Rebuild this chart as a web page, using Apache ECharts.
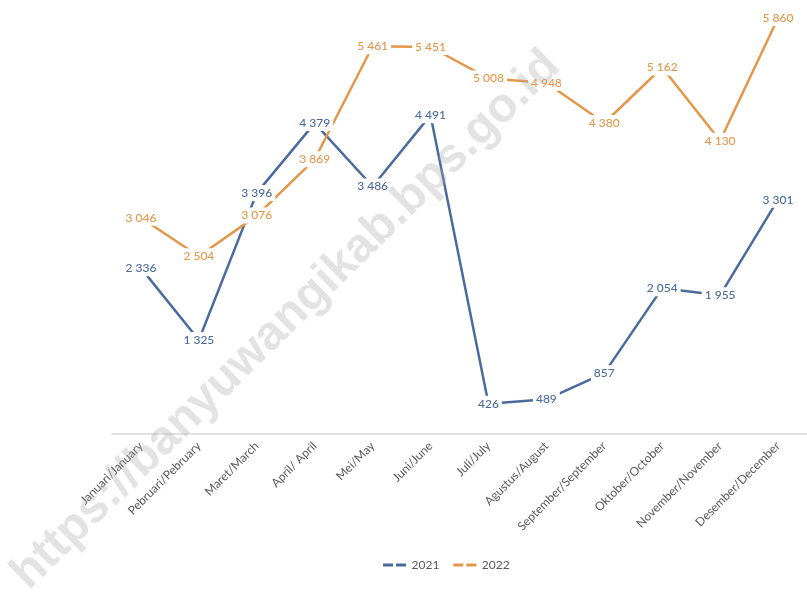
<!DOCTYPE html>
<html>
<head>
<meta charset="utf-8">
<script src="https://cdn.jsdelivr.net/npm/echarts@6/dist/echarts.min.js"></script>
<style>html,body{margin:0;padding:0;background:#fff;}#c{width:807px;height:594px;}</style>
</head>
<body>
<div id="c"></div>
<script>
var categories = ["Januari/January","Pebruari/Pebruary","Maret/March","April/ April","Mei/May","Juni/June","Juli/July","Agustus/August","September/September","Oktober/October","November/November","Desember/December"];
var values2021 = [2336, 1325, 3396, 4379, 3486, 4491, 426, 489, 857, 2054, 1955, 3301];
var values2022 = [3046, 2504, 3076, 3869, 5461, 5451, 5008, 4948, 4380, 5162, 4130, 5860];
var seriesNames = ["2021", "2022"];

var blue = '#4a6b9c', orange = '#e4974a';
function fmt(v){ return String(v).replace(/\B(?=(\d{3})+(?!\d))/g, ' '); }
function mkSeries(name, data, color){
  return {
    name: name, type: 'line', data: data,
    symbol: 'circle', symbolSize: 2, showSymbol: true,
    itemStyle: { color: 'rgba(0,0,0,0)', borderWidth: 0 },
    lineStyle: { color: color, width: 2.5 },
    label: {
      show: true, position: 'inside', color: color,
      fontFamily: 'Lato', fontSize: 12, fontWeight: 500,
      backgroundColor: '#fff', padding: [2, 3],
      formatter: function(p){ return fmt(p.value); }
    },
    emphasis: { disabled: true }
  };
}
var chart = echarts.init(document.getElementById('c'), null, {renderer: 'canvas'});
chart.setOption({
  animation: false,
  backgroundColor: '#fff',
  grid: { left: 112, right: -9, top: 8, bottom: 160, containLabel: false },
  xAxis: {
    type: 'category', data: categories, boundaryGap: true,
    axisLine: { lineStyle: { color: '#d9d9d9', width: 1.5 } },
    axisTick: { show: false },
    axisLabel: { rotate: 45, color: '#595959', fontFamily: 'Lato', fontSize: 12, margin: 10, interval: 0 }
  },
  yAxis: {
    type: 'value', min: 0, max: 6000, show: false, splitLine: { show: false }
  },
  legend: {
    data: [
      { name: seriesNames[0], itemStyle: { color: blue } },
      { name: seriesNames[1], itemStyle: { color: orange } }
    ],
    bottom: 18, left: 378,
    itemWidth: 24, itemHeight: 3, itemGap: 14,
    icon: 'path://M0,0h10v3h-10z M13,0h10v3h-10z',
    textStyle: { color: '#595959', fontFamily: 'Lato', fontSize: 12 }
  },
  series: [ mkSeries(seriesNames[0], values2021, blue), mkSeries(seriesNames[1], values2022, orange) ],
  graphic: [{
    type: 'text', x: 286, y: 320, rotation: Math.PI/4 - 0.01, z: 100,
    style: {
      text: 'https://banyuwangikab.bps.go.id',
      font: 'bold 48px "Liberation Sans"',
      fill: 'rgba(170,170,170,0.33)',
      textAlign: 'center', textVerticalAlign: 'middle'
    }
  }]
});
</script>
</body>
</html>
